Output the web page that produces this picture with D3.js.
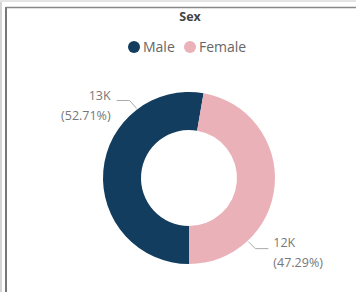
<!DOCTYPE html>
<html>
<head>
<meta charset="utf-8">
<script src="https://cdn.jsdelivr.net/npm/d3@7"></script>
<style>
  body { margin: 0; background: #fff; }
  text { font-family: "Open Sans", "Noto Sans", sans-serif; }
</style>
</head>
<body>
<div id="chart"></div>
<script>
// data
var categories = ['Male', 'Female'];
var counts = [13021, 11682];
var colours = ['#133D5E', '#EBB1B8'];

var width = 356, height = 292;
var cx = 189, cy = 178;
var outerR = 86, innerR = 48;

var svg = d3.select('#chart').append('svg')
    .attr('width', width)
    .attr('height', height);

// outer page edges and the visual frame
svg.append('rect').attr('x', 0).attr('y', 0).attr('width', 2).attr('height', height).attr('fill', '#d4d4d4');
svg.append('rect').attr('x', 0).attr('y', 0).attr('width', width).attr('height', 2).attr('fill', '#e4e4e4');
svg.append('line').attr('x1', 6).attr('x2', 6).attr('y1', 7).attr('y2', height)
    .attr('stroke', '#777').attr('stroke-width', 2);
svg.append('line').attr('x1', 6).attr('x2', width).attr('y1', 7.5).attr('y2', 7.5)
    .attr('stroke', '#888').attr('stroke-width', 1.5);

// title
svg.append('text')
    .attr('x', 190).attr('y', 21)
    .attr('text-anchor', 'middle')
    .attr('font-size', 12.5)
    .attr('font-weight', 'bold')
    .attr('fill', '#444')
    .text('Sex');

// legend
var legendX = [134, 190];
var legend = svg.selectAll('g.legend')
    .data(categories)
    .enter().append('g')
    .attr('class', 'legend')
    .attr('transform', function(d, i) { return 'translate(' + legendX[i] + ',47)'; });
legend.append('circle').attr('r', 6).attr('fill', function(d, i) { return colours[i]; });
legend.append('text')
    .attr('x', 9).attr('y', 5)
    .attr('font-size', 14)
    .attr('fill', '#666')
    .text(function(d) { return d; });

var total = d3.sum(counts);
var pdata = categories.map(function(c, i) { return { key: c, value: counts[i], colour: colours[i] }; });

// starts at the bottom, clockwise
var pie = d3.pie().sort(null).value(function(d) { return d.value; })
    .startAngle(Math.PI).endAngle(3 * Math.PI);

var arc = d3.arc().innerRadius(innerR).outerRadius(outerR);

var g = svg.append('g').attr('transform', 'translate(' + cx + ',' + cy + ')');

g.selectAll('path.slice')
    .data(pie(pdata))
    .enter().append('path')
    .attr('class', 'slice')
    .attr('d', arc)
    .attr('fill', function(d) { return d.data.colour; });

// label anchor angles on the ring (Power BI style placement)
var anchorAngle = { Male: -37 * Math.PI / 180, Female: 137 * Math.PI / 180 };
var pfmt = d3.format('.2%');

function pt(a, r) { return [r * Math.sin(a), -r * Math.cos(a)]; }

pie(pdata).forEach(function(d) {
    var a = anchorAngle[d.data.key];
    var left = Math.sin(a) < 0;
    var p0 = pt(a, outerR + 1);
    var p1 = [p0[0] + (left ? -7 : 7), p0[1] + (left ? -8 : 7)];
    var p2 = [p1[0] + (left ? -13 : 13), p1[1]];
    g.append('polyline')
        .attr('points', [p0, p1, p2].join(' '))
        .attr('fill', 'none')
        .attr('stroke', '#aaa')
        .attr('stroke-width', 1);
    var tx = p2[0] + (left ? -6 : 5);
    var t = g.append('text')
        .attr('text-anchor', left ? 'end' : 'start')
        .attr('font-size', 12.5)
        .attr('fill', '#777');
    var y1 = left ? p2[1] - 1 : p2[1] - 2;
    t.append('tspan').attr('x', tx).attr('y', y1)
        .text(Math.round(d.data.value / 1000) + 'K');
    t.append('tspan').attr('x', tx).attr('y', y1 + 20)
        .text('(' + pfmt(d.data.value / total) + ')');
});
</script>
</body>
</html>
